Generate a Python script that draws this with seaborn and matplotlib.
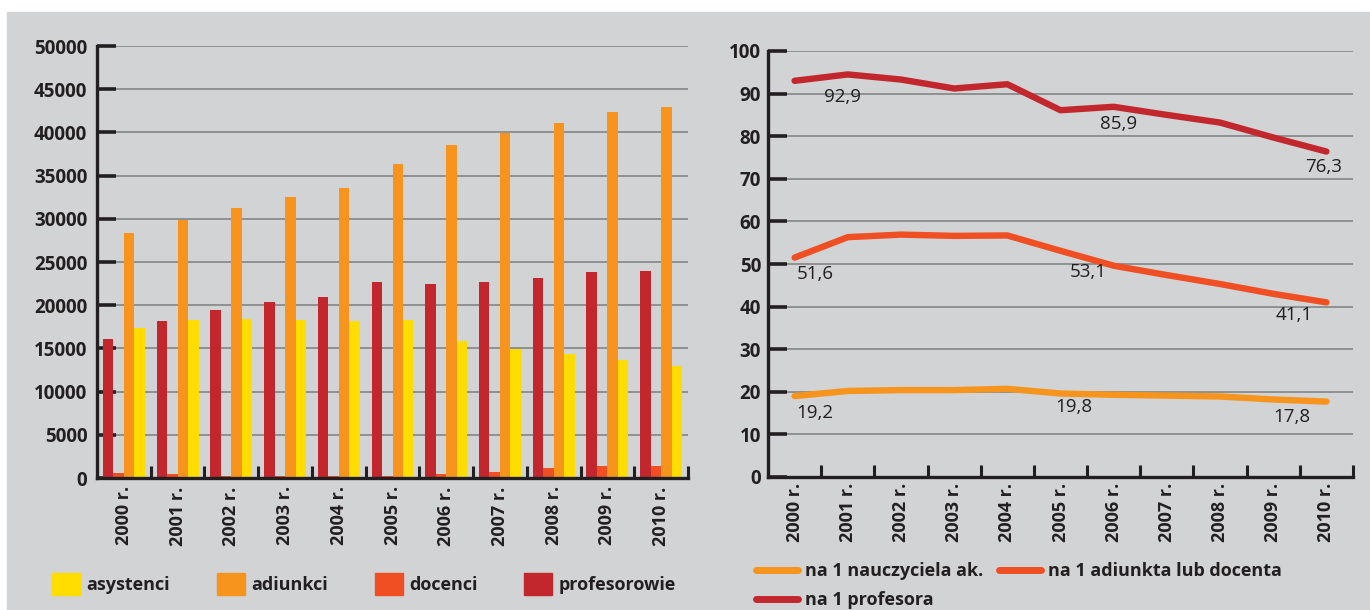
import matplotlib.pyplot as plt
import numpy as np
import pandas as pd
import seaborn as sns
from matplotlib.patches import Patch, Rectangle
from matplotlib.lines import Line2D
from matplotlib.ticker import FixedLocator

# DATA
years = list(range(2000, 2011))
year_labels = [f"{y} r." for y in years]

asystenci = [17400, 18300, 18400, 18300, 18200, 18300, 15900, 14900, 14300, 13600, 13000]
adiunkci = [28300, 29900, 31200, 32500, 33600, 36400, 38500, 39900, 41100, 42400, 42900]
docenci = [600, 450, 200, 200, 200, 200, 450, 700, 1150, 1400, 1400]
profesorowie = [16100, 18200, 19400, 20400, 21000, 22700, 22400, 22700, 23200, 23800, 24000]

na_nauczyciela = [19.0, 20.2, 20.4, 20.4, 20.7, 19.6, 19.3, 19.1, 18.9, 18.2, 17.7]
na_adiunkta = [51.5, 56.3, 56.9, 56.6, 56.7, 53.1, 49.6, 47.4, 45.3, 43.0, 41.0]
na_profesora = [93.0, 94.5, 93.3, 91.2, 92.2, 86.1, 86.9, 85.0, 83.2, 79.7, 76.4]

# value labels written on the line chart
point_labels = ["92,9", "85,9", "76,3", "51,6", "53,1", "41,1", "19,2", "19,8", "17,8"]
# where those labels sit (year, y)
label_pos = [(2000.9, 89.3), (2006.1, 82.9), (2009.95, 72.8),
             (2000.38, 47.6), (2005.53, 48.1), (2009.39, 38.0),
             (2000.38, 15.0), (2005.26, 16.5), (2009.35, 14.1)]

# COLOURS
BG = "#d1d3d4"
TXT = "#231f20"
GRID = "#8a8a8a"
colors = {"asystenci": "#ffdd00", "adiunkci": "#f7941d",
          "docenci": "#f04e23", "profesorowie": "#c1272d"}
line_colors = {"na 1 nauczyciela ak.": "#f7941d",
               "na 1 adiunkta lub docenta": "#f04e23",
               "na 1 profesora": "#c1272d"}

sns.set_theme(style="white")
plt.rcParams["font.family"] = ["Open Sans", "DejaVu Sans"]
plt.rcParams["text.color"] = TXT
plt.rcParams["axes.labelcolor"] = TXT
plt.rcParams["xtick.color"] = TXT
plt.rcParams["ytick.color"] = TXT

W, H = 1370, 610
fig = plt.figure(figsize=(W / 100, H / 100), dpi=100, facecolor="white")
fig.patches.append(Rectangle((7 / W, 0), 1 - 7 / W, 1 - 12 / H,
                             transform=fig.transFigure, color=BG, zorder=-10))


def style_axis(ax, ylim, step, ypad):
    ax.set_facecolor("none")
    ax.set_ylim(*ylim)
    ax.set_yticks(np.arange(ylim[0], ylim[1] + 1, step))
    ax.yaxis.grid(True, color=GRID, lw=1.3)
    ax.xaxis.grid(False)
    ax.set_axisbelow(True)
    for s in ["top", "right"]:
        ax.spines[s].set_visible(False)
    for s in ["left", "bottom"]:
        ax.spines[s].set_color(TXT)
        ax.spines[s].set_linewidth(2.4)
        ax.spines[s].set_zorder(5)
    ax.tick_params(axis="y", direction="in", length=14, width=2.6, pad=ypad,
                   labelsize=13.5, left=True)
    ax.tick_params(axis="x", which="major", length=0, labelsize=13, pad=6,
                   labelrotation=90)
    ax.tick_params(axis="x", which="minor", direction="in", length=9,
                   width=2.2, bottom=True)
    for t in ax.get_yticklabels() + ax.get_xticklabels():
        t.set_fontweight("bold")
    ax.set_xlabel("")
    ax.set_ylabel("")


# LEFT: BAR CHART
bar_df = pd.DataFrame({
    "rok": year_labels * 4,
    "grupa": (["profesorowie"] * 11 + ["docenci"] * 11
              + ["adiunkci"] * 11 + ["asystenci"] * 11),
    "liczba": profesorowie + docenci + adiunkci + asystenci,
})
ax1 = fig.add_axes([97 / W, 1 - 478 / H, (688 - 97) / W, (478 - 46) / H])
sns.barplot(data=bar_df, x="rok", y="liczba", hue="grupa",
            hue_order=["profesorowie", "docenci", "adiunkci", "asystenci"],
            palette=colors, saturation=1, width=0.78, gap=0,
            linewidth=0, edgecolor="none", legend=False, ax=ax1)
ax1.set_xlim(-0.5, len(years) - 0.5)
ax1.xaxis.set_minor_locator(FixedLocator(np.arange(0.5, len(years), 1)))
style_axis(ax1, (0, 50000), 5000, 7)

# RIGHT: LINE CHART
line_df = pd.DataFrame({
    "rok": years * 3,
    "seria": (["na 1 nauczyciela ak."] * 11 + ["na 1 adiunkta lub docenta"] * 11
              + ["na 1 profesora"] * 11),
    "wartosc": na_nauczyciela + na_adiunkta + na_profesora,
})
ax2 = fig.add_axes([768 / W, 1 - 477 / H, (1353 - 768) / W, (477 - 51) / H])
sns.lineplot(data=line_df, x="rok", y="wartosc", hue="seria",
             palette=line_colors, linewidth=4.6, legend=False, ax=ax2)
for ln in ax2.lines:
    ln.set_solid_capstyle("round")
    ln.set_solid_joinstyle("round")
ax2.set_xlim(years[0] - 0.5, years[-1] + 0.5)
ax2.set_xticks(years)
ax2.set_xticklabels(year_labels)
ax2.xaxis.set_minor_locator(FixedLocator(np.arange(years[0] + 0.5, years[-1] + 1, 1)))
style_axis(ax2, (0, 100), 10, 5)
ax2.tick_params(axis="x", which="major", pad=4)

for txt, (x, y) in zip(point_labels, label_pos):
    ax2.text(x, y, txt, ha="center", va="center", fontsize=13.5, color=TXT)

# LEGENDS
bar_order = ["asystenci", "adiunkci", "docenci", "profesorowie"]
fig.legend(handles=[Patch(color=colors[k]) for k in bar_order], labels=bar_order,
           ncol=4, loc="center left", bbox_to_anchor=(52 / W, 1 - 584 / H),
           frameon=False, handlelength=1.55, handleheight=1.55,
           handletextpad=0.35, columnspacing=2.6, borderpad=0, borderaxespad=0,
           prop=dict(size=13, weight="bold"))

leg_order = ["na 1 nauczyciela ak.", "na 1 profesora", "na 1 adiunkta lub docenta"]
fig.legend(handles=[Line2D([], [], color=line_colors[k], lw=5,
                           solid_capstyle="round") for k in leg_order],
           labels=leg_order, ncol=2, loc="upper left",
           bbox_to_anchor=(756 / W, 1 - 562 / H), frameon=False,
           handlelength=2.3, handletextpad=0.4, columnspacing=0.9,
           labelspacing=0.6, borderpad=0, borderaxespad=0,
           prop=dict(size=13, weight="bold"))

fig.savefig("out.png", dpi=100, facecolor=fig.get_facecolor())
